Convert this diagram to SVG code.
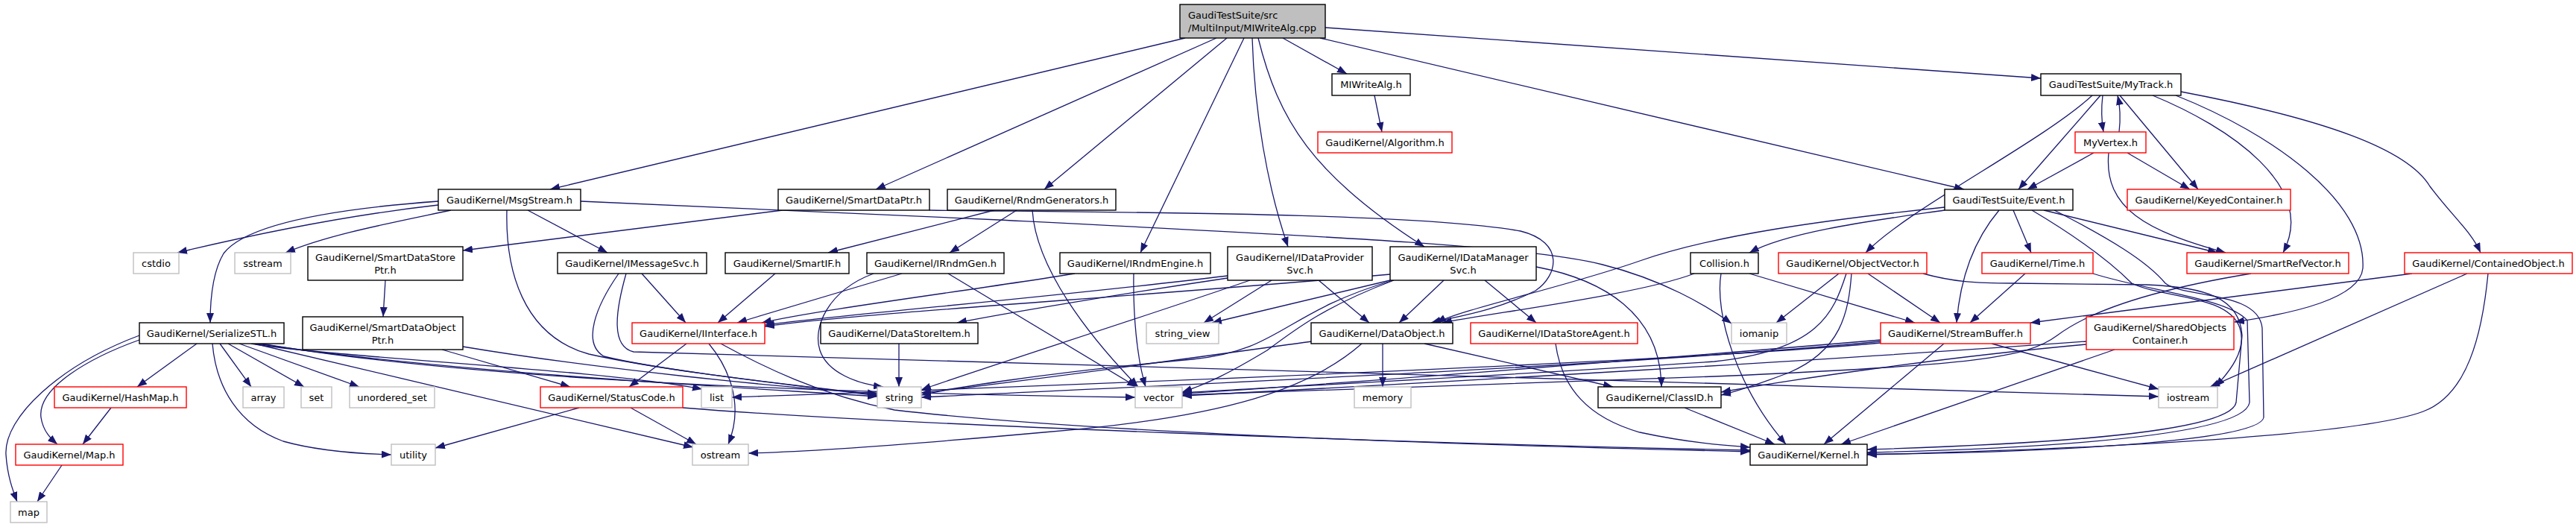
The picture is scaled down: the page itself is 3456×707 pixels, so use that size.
<svg xmlns="http://www.w3.org/2000/svg" width="3456" height="707" viewBox="0 0 3456 707">
<defs>
<marker id="a" markerUnits="userSpaceOnUse" markerWidth="14" markerHeight="10" refX="13" refY="5" orient="auto"><path d="M0,0 L13,5 L0,10 z" fill="#191970"/></marker>
<style>
.n rect{fill:#fff;stroke:#000;stroke-width:1.4}
.r rect{fill:#fff;stroke:#ff0000;stroke-width:1.4}
.g rect{fill:#fff;stroke:#bfbfbf;stroke-width:1.4}
.root rect{fill:#bfbfbf;stroke:#000;stroke-width:1.4}
text{font-family:"DejaVu Sans","Liberation Sans",sans-serif;font-size:13px;fill:#000;text-anchor:middle}
.root text{text-anchor:start}
#edges path{fill:none;stroke:#191970;stroke-width:1.3;marker-end:url(#a)}
</style>
</defs>
<rect width="3456" height="707" fill="#fff"/>
<g id="edges">
<path d="M1590,51 L738,254"/>
<path d="M1632,51 L1175,254"/>
<path d="M1646,51 L1401,254"/>
<path d="M1669,51 L1530,339"/>
<path d="M1680,51 C1683,150 1700,250 1728,331"/>
<path d="M1688,51 C1715,160 1760,235 1911,331"/>
<path d="M1721,51 L1807,99"/>
<path d="M1771,51 L2635,254"/>
<path d="M1778,37 L2738,105"/>
<path d="M1844,128 L1854,177"/>
<path d="M2807,128 C2740,190 2560,280 2503,339"/>
<path d="M2818,128 L2708,254"/>
<path d="M2821,128 C2819,145 2819,160 2822,177"/>
<path d="M2843,177 C2845,160 2845,145 2841,128"/>
<path d="M2844,128 L2949,254"/>
<path d="M2888,128 C2990,170 3110,250 3063,339"/>
<path d="M2919,128 C3050,180 3175,270 3170,360 C3166,400 3080,420 2998,432"/>
<path d="M2926,123 C3120,160 3230,200 3260,250 C3290,290 3315,310 3328,339"/>
<path d="M2809,205 L2720,254"/>
<path d="M2854,205 L2938,254"/>
<path d="M2829,205 C2822,280 2880,310 2986,339"/>
<path d="M588,275 C500,285 380,305 238,339"/>
<path d="M588,270 C450,280 330,300 300,340 C285,365 282,400 282,433"/>
<path d="M605,282 C520,300 440,315 383,339"/>
<path d="M708,282 L815,339"/>
<path d="M680,282 C678,360 700,450 790,475 C900,500 1100,520 1177,530"/>
<path d="M779,270 L1340,295 C1800,318 2050,330 2150,355 C2230,375 2290,410 2323,434"/>
<path d="M1050,282 L621,336"/>
<path d="M1247,282 C1500,285 1900,285 2040,310 C2100,325 2090,370 2060,390 C2000,420 1950,425 1920,433"/>
<path d="M1334,282 L1111,339"/>
<path d="M1364,282 L1274,339"/>
<path d="M1385,282 C1390,360 1460,450 1527,519"/>
<path d="M517,376 L514,425"/>
<path d="M593,469 L765,519"/>
<path d="M621,465 C800,495 1050,520 1177,528"/>
<path d="M861,367 L920,433"/>
<path d="M830,367 C800,410 780,460 810,478 C900,500 1100,520 1177,531"/>
<path d="M840,367 C825,420 820,465 850,472 C1100,485 2500,515 2896,532"/>
<path d="M1040,367 L963,433"/>
<path d="M1210,367 L989,433"/>
<path d="M1172,367 C1110,390 1090,440 1100,470 C1110,500 1150,515 1185,519"/>
<path d="M1272,367 L1525,519"/>
<path d="M1442,367 C1300,390 1100,415 1022,433"/>
<path d="M1521,367 C1520,420 1525,480 1537,519"/>
<path d="M1647,370 C1400,400 1150,420 1026,436"/>
<path d="M1647,373 C1500,395 1350,420 1284,433"/>
<path d="M1677,376 C1550,420 1300,500 1236,523"/>
<path d="M1706,376 L1615,433"/>
<path d="M1769,376 L1837,433"/>
<path d="M1865,368 C1500,400 1150,420 1026,438"/>
<path d="M1865,376 L1626,433"/>
<path d="M1937,376 L1877,433"/>
<path d="M1992,376 L2061,433"/>
<path d="M2061,358 C2150,375 2228,420 2229,519"/>
<path d="M1870,376 C1780,410 1740,440 1700,470 C1650,500 1620,515 1586,526"/>
<path d="M1869,376 C1720,420 1720,470 1600,482 C1400,500 1270,522 1236,530"/>
<path d="M1206,461 L1206,519"/>
<path d="M1760,458 C1600,480 1350,515 1236,527"/>
<path d="M1827,461 C1760,520 1650,560 1400,580 C1200,598 1080,606 1004,608"/>
<path d="M1855,461 L1855,519"/>
<path d="M1911,461 L2164,519"/>
<path d="M921,461 L844,519"/>
<path d="M951,461 C975,490 1000,540 977,596"/>
<path d="M967,461 C1020,490 1100,530 1200,550 C1500,585 2100,600 2348,606"/>
<path d="M777,547 L584,601"/>
<path d="M846,547 L934,596"/>
<path d="M916,547 C1200,570 1900,595 2348,604"/>
<path d="M264,461 L184,519"/>
<path d="M187,456 C120,480 50,520 55,560 C58,580 70,590 77,596"/>
<path d="M187,450 C80,490 5,560 8,610 C10,640 18,660 23,673"/>
<path d="M295,461 L337,519"/>
<path d="M306,461 L408,519"/>
<path d="M321,461 L482,519"/>
<path d="M285,461 C290,520 320,570 380,592 C430,606 490,609 525,610"/>
<path d="M341,461 L930,600"/>
<path d="M337,461 C450,480 800,495 942,522"/>
<path d="M345,461 C600,500 1000,520 1177,532"/>
<path d="M350,461 C700,520 1300,530 1523,533"/>
<path d="M149,547 L111,596"/>
<path d="M83,624 L50,673"/>
<path d="M2609,278 C2450,295 2300,315 2200,350 C2100,385 1960,415 1927,433"/>
<path d="M2609,282 C2520,295 2400,310 2347,339"/>
<path d="M2682,282 C2650,320 2630,370 2625,433"/>
<path d="M2701,282 L2725,339"/>
<path d="M2742,282 L2975,339"/>
<path d="M2726,282 C2790,320 2830,350 2860,380 C2900,400 2990,395 3005,440 C3015,470 2990,500 2972,519"/>
<path d="M2756,282 C2830,320 2880,350 2905,380 C2930,400 3030,390 3035,440 L3037,560 C3030,600 2600,610 2505,609"/>
<path d="M2273,367 C2200,395 2000,420 1935,433"/>
<path d="M2347,367 L2569,433"/>
<path d="M2309,367 C2300,420 2330,520 2396,596"/>
<path d="M2467,367 L2383,433"/>
<path d="M2506,367 L2603,433"/>
<path d="M2484,367 C2480,420 2470,470 2400,500 C2360,515 2330,525 2309,530"/>
<path d="M2477,367 C2460,420 2440,470 2300,485 C2000,505 1700,520 1586,527"/>
<path d="M2580,367 C2620,378 2650,380 2700,380 L2880,382 C2960,385 3005,400 3008,450 L3000,540 C2990,590 2600,600 2505,603"/>
<path d="M2717,367 L2643,433"/>
<path d="M2808,367 C2880,390 2990,400 3015,430 L3018,540 C3010,595 2600,605 2505,607"/>
<path d="M3236,367 L2724,433"/>
<path d="M3310,367 L2965,519"/>
<path d="M3338,367 C3330,450 3310,530 3251,552 C3150,590 2700,605 2505,610"/>
<path d="M3020,367 C2880,390 2800,420 2760,450 C2720,480 2650,490 2300,505 C2000,515 1700,525 1586,530"/>
<path d="M2608,461 L2447,596"/>
<path d="M2672,461 L2896,522"/>
<path d="M2523,456 C2300,475 1800,515 1586,528"/>
<path d="M2523,458 C2200,490 1500,520 1236,533"/>
<path d="M2523,460 C2200,490 1200,525 982,533"/>
<path d="M2837,469 L2470,596"/>
<path d="M2799,462 C2600,480 2400,510 2309,526"/>
<path d="M2799,458 C2500,480 1900,515 1586,531"/>
<path d="M2087,461 C2095,520 2130,560 2200,580 C2270,595 2320,598 2348,600"/>
<path d="M2260,547 L2381,596"/>
</g>
<g id="n_root" class="root"><rect x="1583" y="6" width="195" height="45"/><text x="1594" y="25">GaudiTestSuite/src</text><text x="1594" y="42">/MultiInput/MIWriteAlg.cpp</text></g>
<g id="n_miwritealg" class="n"><rect x="1787" y="99" width="105" height="29"/><text x="1839.5" y="118">MIWriteAlg.h</text></g>
<g id="n_mytrack" class="n"><rect x="2738" y="99" width="188" height="29"/><text x="2832" y="118">GaudiTestSuite/MyTrack.h</text></g>
<g id="n_algorithm" class="r"><rect x="1768" y="177" width="180" height="28"/><text x="1858" y="196">GaudiKernel/Algorithm.h</text></g>
<g id="n_myvertex" class="r"><rect x="2784" y="177" width="95" height="28"/><text x="2831.5" y="196">MyVertex.h</text></g>
<g id="n_msgstream" class="n"><rect x="588" y="254" width="191" height="28"/><text x="683.5" y="273">GaudiKernel/MsgStream.h</text></g>
<g id="n_smartdataptr" class="n"><rect x="1044" y="254" width="203" height="28"/><text x="1145.5" y="273">GaudiKernel/SmartDataPtr.h</text></g>
<g id="n_rndmgenerators" class="n"><rect x="1271" y="254" width="226" height="28"/><text x="1384" y="273">GaudiKernel/RndmGenerators.h</text></g>
<g id="n_event" class="n"><rect x="2609" y="254" width="172" height="28"/><text x="2695" y="273">GaudiTestSuite/Event.h</text></g>
<g id="n_keyedcontainer" class="r"><rect x="2854" y="254" width="219" height="28"/><text x="2963.5" y="273">GaudiKernel/KeyedContainer.h</text></g>
<g id="n_cstdio" class="g"><rect x="179" y="339" width="61" height="28"/><text x="209.5" y="358">cstdio</text></g>
<g id="n_sstream" class="g"><rect x="315" y="339" width="75" height="28"/><text x="352.5" y="358">sstream</text></g>
<g id="n_smartdatastoreptr" class="n"><rect x="413" y="331" width="208" height="45"/><text x="517" y="350">GaudiKernel/SmartDataStore</text><text x="517" y="367">Ptr.h</text></g>
<g id="n_imessagesvc" class="n"><rect x="748" y="339" width="200" height="28"/><text x="848" y="358">GaudiKernel/IMessageSvc.h</text></g>
<g id="n_smartif" class="n"><rect x="973" y="339" width="166" height="28"/><text x="1056" y="358">GaudiKernel/SmartIF.h</text></g>
<g id="n_irndmgen" class="n"><rect x="1163" y="339" width="184" height="28"/><text x="1255" y="358">GaudiKernel/IRndmGen.h</text></g>
<g id="n_irndmengine" class="n"><rect x="1422" y="339" width="202" height="28"/><text x="1523" y="358">GaudiKernel/IRndmEngine.h</text></g>
<g id="n_idataprovidersvc" class="n"><rect x="1647" y="331" width="194" height="45"/><text x="1744" y="350">GaudiKernel/IDataProvider</text><text x="1744" y="367">Svc.h</text></g>
<g id="n_idatamanagersvc" class="n"><rect x="1865" y="331" width="196" height="45"/><text x="1963" y="350">GaudiKernel/IDataManager</text><text x="1963" y="367">Svc.h</text></g>
<g id="n_collision" class="n"><rect x="2268" y="339" width="91" height="28"/><text x="2313.5" y="358">Collision.h</text></g>
<g id="n_objectvector" class="r"><rect x="2386" y="339" width="199" height="28"/><text x="2485.5" y="358">GaudiKernel/ObjectVector.h</text></g>
<g id="n_time" class="r"><rect x="2659" y="339" width="149" height="28"/><text x="2733.5" y="358">GaudiKernel/Time.h</text></g>
<g id="n_smartrefvector" class="r"><rect x="2934" y="339" width="217" height="28"/><text x="3042.5" y="358">GaudiKernel/SmartRefVector.h</text></g>
<g id="n_containedobject" class="r"><rect x="3226" y="339" width="225" height="28"/><text x="3338.5" y="358">GaudiKernel/ContainedObject.h</text></g>
<g id="n_serializestl" class="n"><rect x="187" y="433" width="194" height="28"/><text x="284" y="452">GaudiKernel/SerializeSTL.h</text></g>
<g id="n_smartdataobjectptr" class="n"><rect x="406" y="425" width="215" height="44"/><text x="513.5" y="444">GaudiKernel/SmartDataObject</text><text x="513.5" y="461">Ptr.h</text></g>
<g id="n_iinterface" class="r"><rect x="848" y="433" width="178" height="28"/><text x="937" y="452">GaudiKernel/IInterface.h</text></g>
<g id="n_datastoreitem" class="n"><rect x="1101" y="433" width="211" height="28"/><text x="1206.5" y="452">GaudiKernel/DataStoreItem.h</text></g>
<g id="n_string_view" class="g"><rect x="1538" y="433" width="97" height="28"/><text x="1586.5" y="452">string_view</text></g>
<g id="n_dataobject" class="n"><rect x="1759" y="433" width="190" height="28"/><text x="1854" y="452">GaudiKernel/DataObject.h</text></g>
<g id="n_idatastoreagent" class="r"><rect x="1973" y="433" width="224" height="28"/><text x="2085" y="452">GaudiKernel/IDataStoreAgent.h</text></g>
<g id="n_iomanip" class="g"><rect x="2323" y="433" width="74" height="28"/><text x="2360" y="452">iomanip</text></g>
<g id="n_streambuffer" class="r"><rect x="2523" y="433" width="201" height="28"/><text x="2623.5" y="452">GaudiKernel/StreamBuffer.h</text></g>
<g id="n_sharedobjectscontainer" class="r"><rect x="2799" y="425" width="198" height="44"/><text x="2898" y="444">GaudiKernel/SharedObjects</text><text x="2898" y="461">Container.h</text></g>
<g id="n_hashmap" class="r"><rect x="73" y="519" width="177" height="28"/><text x="161.5" y="538">GaudiKernel/HashMap.h</text></g>
<g id="n_array" class="g"><rect x="326" y="519" width="55" height="28"/><text x="353.5" y="538">array</text></g>
<g id="n_set" class="g"><rect x="404" y="519" width="41" height="28"/><text x="424.5" y="538">set</text></g>
<g id="n_unordered_set" class="g"><rect x="469" y="519" width="114" height="28"/><text x="526" y="538">unordered_set</text></g>
<g id="n_statuscode" class="r"><rect x="725" y="519" width="191" height="28"/><text x="820.5" y="538">GaudiKernel/StatusCode.h</text></g>
<g id="n_list" class="g"><rect x="941" y="519" width="41" height="28"/><text x="961.5" y="538">list</text></g>
<g id="n_string" class="g"><rect x="1177" y="519" width="59" height="28"/><text x="1206.5" y="538">string</text></g>
<g id="n_vector" class="g"><rect x="1523" y="519" width="63" height="28"/><text x="1554.5" y="538">vector</text></g>
<g id="n_memory" class="g"><rect x="1817" y="519" width="76" height="28"/><text x="1855" y="538">memory</text></g>
<g id="n_classid" class="n"><rect x="2144" y="519" width="165" height="28"/><text x="2226.5" y="538">GaudiKernel/ClassID.h</text></g>
<g id="n_iostream" class="g"><rect x="2896" y="519" width="79" height="28"/><text x="2935.5" y="538">iostream</text></g>
<g id="n_map_h" class="r"><rect x="21" y="596" width="144" height="28"/><text x="93" y="615">GaudiKernel/Map.h</text></g>
<g id="n_utility" class="g"><rect x="525" y="596" width="59" height="28"/><text x="554.5" y="615">utility</text></g>
<g id="n_ostream" class="g"><rect x="929" y="596" width="75" height="28"/><text x="966.5" y="615">ostream</text></g>
<g id="n_kernel" class="n"><rect x="2348" y="596" width="157" height="28"/><text x="2426.5" y="615">GaudiKernel/Kernel.h</text></g>
<g id="n_map" class="g"><rect x="14" y="673" width="49" height="28"/><text x="38.5" y="692">map</text></g>
</svg>
